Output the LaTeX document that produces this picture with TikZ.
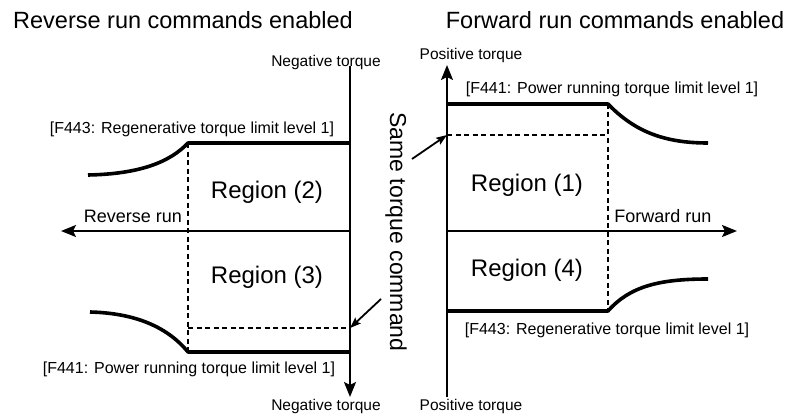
\documentclass[tikz,border=0pt]{standalone}
\usepackage{fontspec}
\setmainfont{Liberation Sans}
\usetikzlibrary{arrows.meta}

\begin{document}
\begin{tikzpicture}[x=1pt,y=-1pt,
        torqueaxis/.style={line width=2pt,-{Stealth[length=15pt,width=12pt,inset=3pt]}},
        limitline/.style={line width=3.6pt,line join=round},
        cmdline/.style={line width=2.2pt,dash pattern=on 5pt off 3.5pt},
        pointer/.style={line width=1.8pt,-{Stealth[length=11pt,width=8pt,inset=2pt]}},
        headline/.style={inner sep=0pt,anchor=base,font=\fontsize{23.5}{28}\selectfont},
        regionlbl/.style={inner sep=0pt,font=\fontsize{24}{28}\selectfont},
        limitlbl/.style={inner sep=0pt,anchor=base,font=\fontsize{16}{19}\selectfont},
        axislbl/.style={inner sep=0pt,anchor=base,font=\fontsize{15.5}{18}\selectfont},
        runlbl/.style={inner sep=0pt,anchor=base,font=\fontsize{18}{21}\selectfont}]
        \useasboundingbox (0,0) rectangle (792,417);
        % left: reverse run
        \node[headline] (revhead) at (183,29) {Reverse run commands enabled};
        \coordinate (Ltop) at (350,66);
        \coordinate (Lbot) at (350,397);
        \coordinate (Lorg) at (350,231);
        \coordinate (Lrev) at (61,231);
        \coordinate (Lcmd) at (350,328);
        \draw[torqueaxis] (Ltop) -- (Lbot);
        \draw[torqueaxis] (Lorg) -- (Lrev);
        \draw[limitline] (350,143) -- (188,143) .. controls (170,162) and (140,174) .. (88,175);
        \draw[limitline] (350,352) -- (188,352) .. controls (165,324) and (130,313) .. (90,312);
        \draw[cmdline] (188,143) -- (188,352);
        \draw[cmdline] (188,328) -- (Lcmd);
        \node[axislbl] (negtop) at (326,67) {Negative torque};
        \node[axislbl] (negbot) at (326,410) {Negative torque};
        \node[limitlbl] (regenL) at (192,134) {[F443: Regenerative torque limit level 1]};
        \node[limitlbl] (powerL) at (189,373) {[F441: Power running torque limit level 1]};
        \node[runlbl] (revrun) at (133,222) {Reverse run};
        \node[regionlbl] (reg2) at (267,192) {Region (2)};
        \node[regionlbl] (reg3) at (267,277) {Region (3)};
        % middle
        \node[inner sep=0pt,rotate=-90,font=\fontsize{23}{27}\selectfont] (same) at (396,232) {Same torque command};
        \coordinate (Lptr) at (381,299);
        \coordinate (Rptr) at (412,159);
        \draw[pointer] (Lptr) -- (Lcmd);
        % right: forward run
        \node[headline] (fwdhead) at (615,29) {Forward run commands enabled};
        \coordinate (Rtop) at (447,65);
        \coordinate (Rbot) at (447,397);
        \coordinate (Rorg) at (447,231);
        \coordinate (Rfwd) at (737,231);
        \coordinate (Rcmd) at (447,135);
        \draw[torqueaxis] (Rbot) -- (Rtop);
        \draw[torqueaxis] (Rorg) -- (Rfwd);
        \draw[limitline] (447,104) -- (608,104) .. controls (635,132) and (665,143) .. (708,143);
        \draw[limitline] (447,311) -- (608,311) .. controls (630,286) and (660,279) .. (708,279);
        \draw[cmdline] (Rcmd) -- (608,135);
        \draw[cmdline] (608,104) -- (608,311);
        \draw[pointer] (Rptr) -- (Rcmd);
        \node[axislbl] (postop) at (471,60) {Positive torque};
        \node[axislbl] (posbot) at (471,410) {Positive torque};
        \node[limitlbl] (powerR) at (612,94) {[F441: Power running torque limit level 1]};
        \node[limitlbl] (regenR) at (607,334) {[F443: Regenerative torque limit level 1]};
        \node[runlbl] (fwdrun) at (663,222) {Forward run};
        \node[regionlbl] (reg1) at (527,185) {Region (1)};
        \node[regionlbl] (reg4) at (527,270) {Region (4)};
\end{tikzpicture}
\end{document}
